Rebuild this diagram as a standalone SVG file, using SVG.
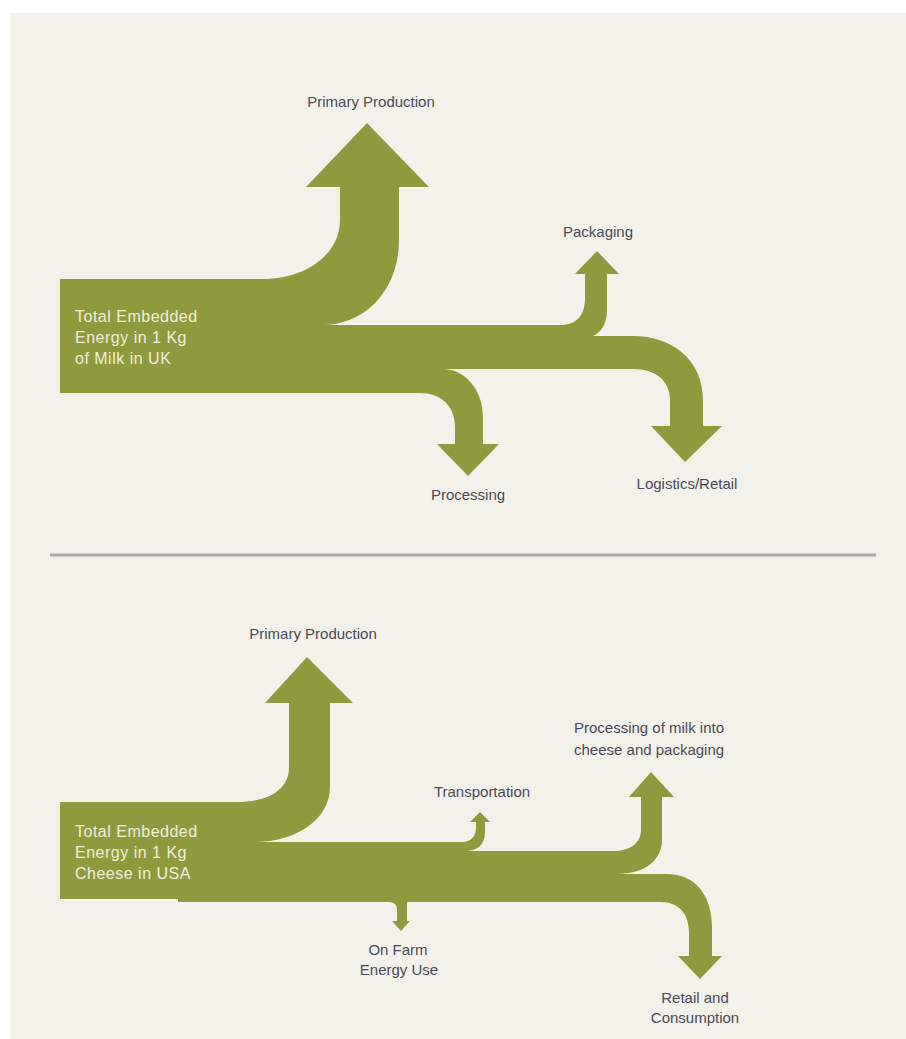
<svg xmlns="http://www.w3.org/2000/svg" width="906" height="1039" viewBox="0 0 906 1039">
  <style>
    .flow { fill: #8f9a3f; }
    .label { font-family: "Liberation Sans", Arial, sans-serif; font-size: 15px; fill: #4a4956; }
    .mid { text-anchor: middle; }
    .src { font-family: "Liberation Sans", Arial, sans-serif; font-size: 16px; letter-spacing: 0.5px; fill: #f1eedb; }
  </style>

  <!-- page -->
  <rect x="10" y="13" width="896" height="1026" fill="#f3f2ea"/>
  <line x1="50" y1="555" x2="876" y2="555" stroke="#a9a9a5" stroke-width="3"/>

  <!-- flow bands (Sankey branches) -->
  <g id="connectors">
    <!-- milk in UK -->
    <path id="uk-primary" class="flow" d="M250,279 H263 C305,279 340,255 340,220 V187 H306 L367,123 L429,187 H399 V240 C399,290 365,325 323,325 H250 Z"/>
    <path id="uk-packaging" class="flow" d="M250,325 H560 C577,325 585,315 585,298 V274 H575 L597,251 L619,274 H607 V310 C607,325 600,333 593,336 H250 Z"/>
    <path id="uk-logistics" class="flow" d="M250,336 H633 C672,336 703,360 703,400 V426 H722 L685,462 L651,426 H670 V400 C670,380 655,369 633,369 H250 Z"/>
    <path id="uk-processing" class="flow" d="M250,369 H443 C465,369 483,390 483,417 V444 H499 L468,476 L437,444 H455 V427 C455,405 440,393 420,393 H250 Z"/>

    <!-- cheese in USA -->
    <path id="us-primary" class="flow" d="M170,802 H237 C268,802 289,790 289,767 V703 H265 L307,657 L353,703 H330 V787 C330,820 295,842 255,842 H170 Z"/>
    <path id="us-transport" class="flow" d="M170,842 H462 C471,842 476,836 476,828 V822 H470 L480,812 L490,822 H485 V832 C485,845 477,851 465,851 H170 Z"/>
    <path id="us-processing" class="flow" d="M170,851 H613 C630,851 641,843 641,830 V797 H629 L651,772 L674,797 H662 V840 C662,860 645,874 617,874 H170 Z"/>
    <path id="us-retail" class="flow" d="M178,874 H667 C695,874 712,895 712,927 V956 H722 L700,979 L678,956 H689 V933 C689,915 680,902 660,902 H178 Z"/>
    <path id="us-farm" class="flow" d="M388,900 H407 V921 H410 L401,931 L392,921 H397 V910 C397,905 395,902 388,902 Z"/>
  </g>

  <!-- source: milk -->
  <g id="uk-source">
    <rect class="flow" x="60" y="279" width="200" height="114"/>
    <text class="src" x="75" y="322">Total Embedded</text>
    <text class="src" x="75" y="343">Energy in 1 Kg</text>
    <text class="src" x="75" y="364">of Milk in UK</text>
  </g>
  <g id="uk-primary-node"><text class="label mid" x="371" y="107">Primary Production</text></g>
  <g id="uk-packaging-node"><text class="label mid" x="598" y="237">Packaging</text></g>
  <g id="uk-processing-node"><text class="label mid" x="468" y="500">Processing</text></g>
  <g id="uk-logistics-node"><text class="label mid" x="687" y="489">Logistics/Retail</text></g>

  <!-- source: cheese -->
  <g id="us-source">
    <rect class="flow" x="60" y="802" width="180" height="97"/>
    <text class="src" x="75" y="837">Total Embedded</text>
    <text class="src" x="75" y="858">Energy in 1 Kg</text>
    <text class="src" x="75" y="879">Cheese in USA</text>
  </g>
  <g id="us-primary-node"><text class="label mid" x="313" y="639">Primary Production</text></g>
  <g id="us-transport-node"><text class="label mid" x="482" y="797">Transportation</text></g>
  <g id="us-processing-node">
    <text class="label" x="574" y="733">Processing of milk into</text>
    <text class="label" x="574" y="755">cheese and packaging</text>
  </g>
  <g id="us-farm-node">
    <text class="label mid" x="398" y="955">On Farm</text>
    <text class="label mid" x="399" y="975">Energy Use</text>
  </g>
  <g id="us-retail-node">
    <text class="label mid" x="695" y="1003">Retail and</text>
    <text class="label mid" x="695" y="1023">Consumption</text>
  </g>
</svg>
